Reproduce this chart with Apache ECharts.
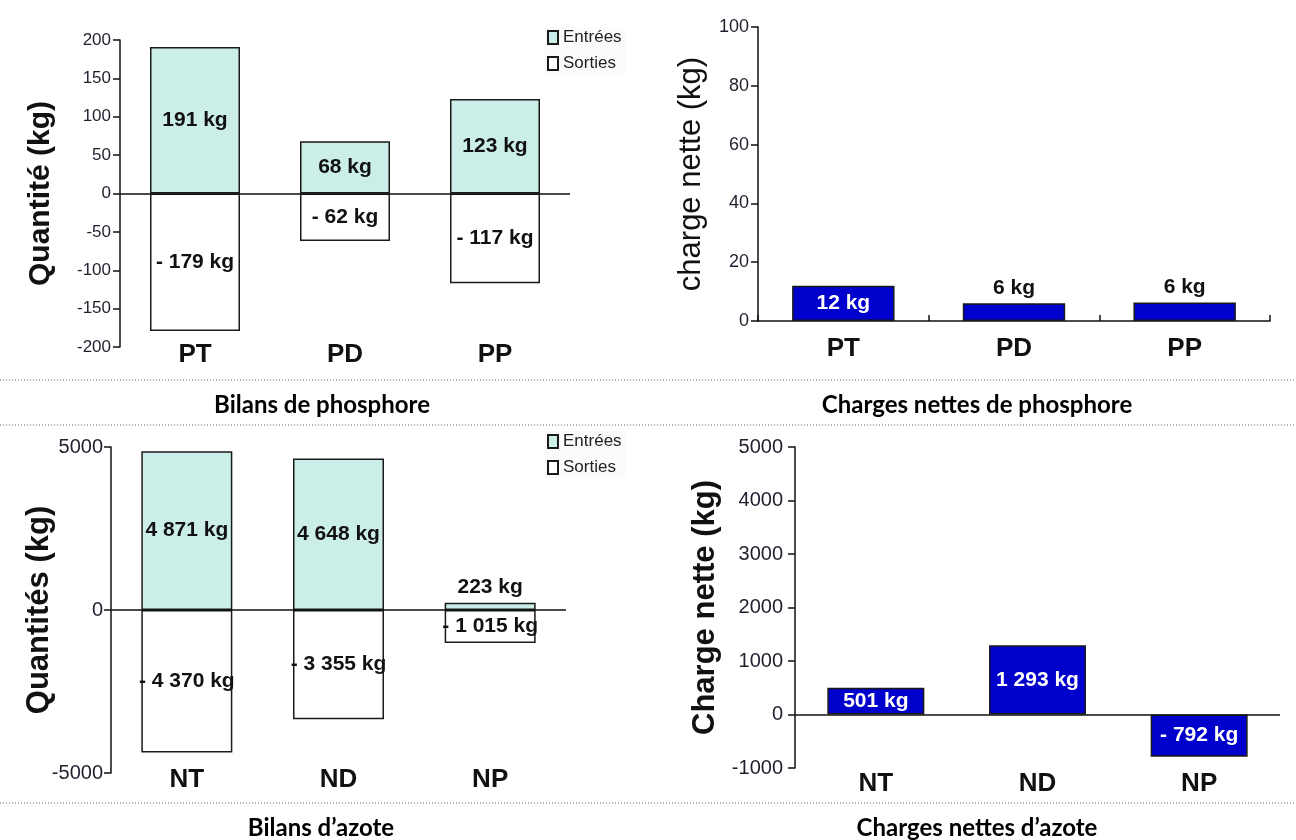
<!DOCTYPE html>
<html><head><meta charset="utf-8">
<script src="https://cdn.jsdelivr.net/npm/echarts@6/dist/echarts.min.js"></script>
<style>html,body{margin:0;padding:0;background:#fff}#c{width:1296px;height:840px}</style>
</head><body><div id="c"></div>
<script>
// ---- data ----
const pCats = ['PT', 'PD', 'PP'];
const pIn = [191, 68, 123];
const pOut = [-179, -62, -117];
const pInLbl = ['191 kg', '68 kg', '123 kg'];
const pOutLbl = ['- 179 kg', '- 62 kg', '- 117 kg'];
const pNet = [12, 6, 6.3];
const pNetLbl = ['12 kg', '6 kg', '6 kg'];

const nCats = ['NT', 'ND', 'NP'];
const nIn = [4871, 4648, 223];
const nOut = [-4370, -3355, -1015];
const nInLbl = ['4 871 kg', '4 648 kg', '223 kg'];
const nOutLbl = ['- 4 370 kg', '- 3 355 kg', '- 1 015 kg'];
const nNet = [501, 1293, -792];
const nNetLbl = ['501 kg', '1 293 kg', '- 792 kg'];

const legendNames = ['Entrées', 'Sorties'];
const panelTitles = ['Bilans de phosphore', 'Charges nettes de phosphore', 'Bilans d\u2019azote', 'Charges nettes d\u2019azote'];
const yNames = ['Quantité (kg)', 'charge nette (kg)', 'Quantités (kg)', 'Charge nette (kg)'];

// ---- styles ----
const ARIAL = "'Liberation Sans',Arial,sans-serif";
const TICKC = '#1f1f2e';
const IN_COLOR = '#cbeee8';
const NET_COLOR = '#0000cc';

function mkData(vals, range, insideColor) {
  return vals.map(v => {
    const inside = Math.abs(v) / range >= 0.08;
    return { value: v, label: { position: inside ? 'inside' : 'top', color: inside ? insideColor : '#111' } };
  });
}
const barLabel = (lbls) => ({
  show: true, fontFamily: ARIAL, fontWeight: 'bold', fontSize: 21,
  formatter: p => lbls[p.dataIndex]
});
const zeroLine = {
  silent: true, symbol: ['none', 'none'], label: { show: false },
  lineStyle: { color: '#111', width: 1.5, type: 'solid' },
  emphasis: { disabled: true },
  data: [{ yAxis: 0 }]
};
function yAx(gi, min, max, interval, name, gap, bold, nsize, tsize, tmargin) {
  return {
    type: 'value', gridIndex: gi, min, max, interval,
    name, nameLocation: 'middle', nameGap: gap, nameRotate: 90, nameMoveOverlap: false,
    nameTextStyle: { fontFamily: ARIAL, fontSize: nsize, fontWeight: bold ? 'bold' : 'normal', color: '#111' },
    axisLine: { show: true, lineStyle: { color: '#111', width: 1.5 } },
    axisTick: { show: true, length: 7, lineStyle: { color: '#111', width: 1.5 } },
    axisLabel: { fontFamily: ARIAL, fontSize: tsize, color: TICKC, margin: tmargin, formatter: v => String(v) },
    splitLine: { show: false }
  };
}
function xAx(gi, cats, margin, showLine) {
  return {
    type: 'category', gridIndex: gi, data: cats,
    axisLine: { show: showLine, onZero: false, lineStyle: { color: '#111', width: 1.5 } },
    axisTick: { show: showLine, inside: true, length: 6, lineStyle: { color: '#111', width: 1.5 } },
    axisLabel: { fontFamily: ARIAL, fontSize: 26, fontWeight: 'bold', color: '#111', margin }
  };
}
const borderStyle = (c) => ({ color: c, borderColor: '#1a1a1a', borderWidth: 1.5 });

const chart = echarts.init(document.getElementById('c'));
const sep = (y) => ({ type: 'line', shape: { x1: 0, y1: y, x2: 1296, y2: y }, style: { stroke: '#666', lineWidth: 1, lineDash: [1, 2] } });
const ttl = (t, x, y) => ({ type: 'text', x, y, style: { text: t, fontFamily: "Lato,'Open Sans',sans-serif", fontWeight: 'bold', fontSize: 24, fill: '#000', textAlign: 'center', textVerticalAlign: 'middle' } });
const legendCfg = (top) => ({
  data: legendNames, orient: 'vertical', left: 545, top, itemGap: 9, itemWidth: 10, itemHeight: 13,
  selectedMode: false, icon: 'rect', backgroundColor: '#fbfbfb', padding: [2, 4, 2, 2],
  textStyle: { fontFamily: ARIAL, fontSize: 17, color: '#222' }
});

chart.setOption({
  animation: false,
  backgroundColor: '#fff',
  grid: [
    { left: 120, top: 40, width: 450, height: 307 },
    { left: 758, top: 27, width: 512, height: 294 },
    { left: 111, top: 447, width: 455, height: 326 },
    { left: 795, top: 447, width: 485, height: 321 }
  ],
  legend: [legendCfg(27), legendCfg(431)],
  xAxis: [
    xAx(0, pCats, -5, false),
    xAx(1, pCats, 15, true),
    xAx(2, nCats, -6, false),
    xAx(3, nCats, 3, false)
  ],
  yAxis: [
    yAx(0, -200, 200, 50, yNames[0], 64, true, 30, 17, 9),
    yAx(1, 0, 100, 20, yNames[1], 51, false, 31, 18, 9),
    yAx(2, -5000, 5000, 5000, yNames[2], 56, true, 31, 20, 8),
    yAx(3, -1000, 5000, 1000, yNames[3], 74, true, 31, 20, 12)
  ],
  series: [
    { name: legendNames[0], type: 'bar', xAxisIndex: 0, yAxisIndex: 0, barWidth: '60%', barGap: '-100%',
      itemStyle: borderStyle(IN_COLOR), label: barLabel(pInLbl), data: mkData(pIn, 400, '#111'), markLine: zeroLine },
    { name: legendNames[1], type: 'bar', xAxisIndex: 0, yAxisIndex: 0, barWidth: '60%', barGap: '-100%',
      itemStyle: borderStyle('#ffffff'), label: barLabel(pOutLbl), data: mkData(pOut, 400, '#111') },
    { name: 'Charge P', type: 'bar', xAxisIndex: 1, yAxisIndex: 1, barWidth: '60%',
      itemStyle: borderStyle(NET_COLOR), label: barLabel(pNetLbl), data: mkData(pNet, 100, '#fff') },
    { name: legendNames[0], type: 'bar', xAxisIndex: 2, yAxisIndex: 2, barWidth: '60%', barGap: '-100%',
      itemStyle: borderStyle(IN_COLOR), label: barLabel(nInLbl), data: mkData(nIn, 10000, '#111'), markLine: zeroLine },
    { name: legendNames[1], type: 'bar', xAxisIndex: 2, yAxisIndex: 2, barWidth: '60%', barGap: '-100%',
      itemStyle: borderStyle('#ffffff'), label: barLabel(nOutLbl), data: mkData(nOut, 10000, '#111') },
    { name: 'Charge N', type: 'bar', xAxisIndex: 3, yAxisIndex: 3, barWidth: '60%',
      itemStyle: borderStyle(NET_COLOR), label: barLabel(nNetLbl), data: mkData(nNet, 6000, '#fff'), markLine: zeroLine }
  ],
  graphic: [
    sep(380), sep(425), sep(803),
    ttl(panelTitles[0], 322, 405), ttl(panelTitles[1], 977, 405),
    ttl(panelTitles[2], 321, 828), ttl(panelTitles[3], 977, 828)
  ]
});
</script></body></html>
